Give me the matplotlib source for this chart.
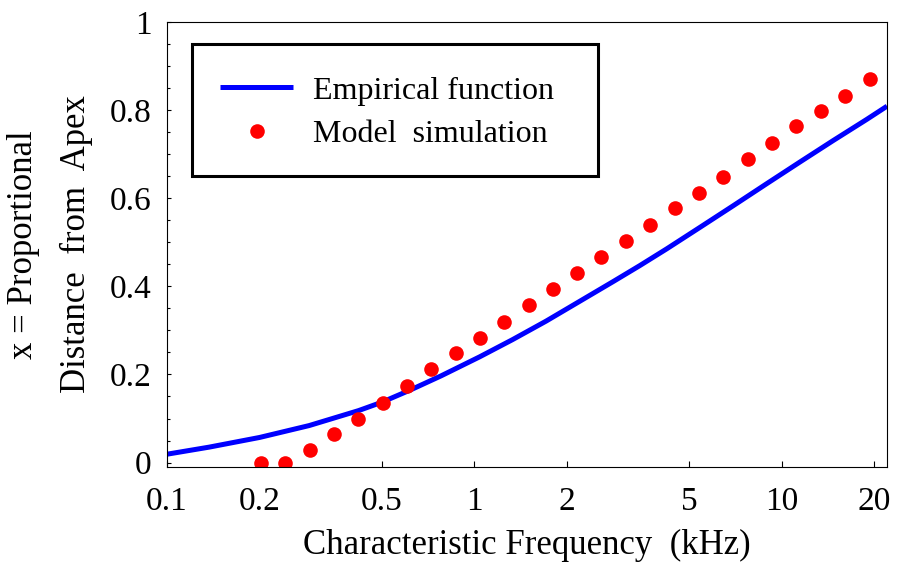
import matplotlib
matplotlib.use("Agg")
import matplotlib.pyplot as plt
from matplotlib.patches import Rectangle
from matplotlib.ticker import FixedLocator, MultipleLocator, NullLocator

# empirical function (kHz, proportional distance)
emp_freq = [0.1, 0.137, 0.2, 0.29, 0.42, 0.5, 0.62, 0.78, 1.04, 1.33, 1.71,
            2.2, 2.83, 3.45, 4.22, 5.42, 6.95, 8.93, 11.5, 14.7, 18.9, 22.0]
emp_pos = [0.019, 0.035, 0.057, 0.084, 0.118, 0.137, 0.165, 0.197, 0.240, 0.279, 0.321,
           0.366, 0.411, 0.447, 0.485, 0.534, 0.583, 0.633, 0.683, 0.731, 0.779, 0.809]

# model simulation points
sim_freq = [0.202, 0.242, 0.291, 0.349, 0.419, 0.503, 0.603, 0.724, 0.869, 1.04,
            1.25, 1.50, 1.80, 2.16, 2.59, 3.11, 3.73, 4.48, 5.37, 6.45,
            7.74, 9.28, 11.1, 13.4, 16.0, 19.3]
sim_pos = [0.0, 0.0, 0.029, 0.065, 0.099, 0.136, 0.174, 0.212, 0.249, 0.283,
           0.320, 0.358, 0.395, 0.431, 0.467, 0.504, 0.540, 0.578, 0.613, 0.649,
           0.688, 0.726, 0.763, 0.797, 0.833, 0.870]

x_ticks = [0.1, 0.2, 0.5, 1, 2, 5, 10, 20]
x_ticklabels = ["0.1", "0.2", "0.5", "1", "2", "5", "10", "20"]
y_ticks = [0, 0.2, 0.4, 0.6, 0.8, 1]
y_ticklabels = ["0", "0.2", "0.4", "0.6", "0.8", "1"]

plt.rcParams['font.family'] = ['Liberation Serif', 'DejaVu Serif']

fig = plt.figure(figsize=(8.97, 5.69), dpi=100)
ax = fig.add_axes([0.1862, 0.1793, 0.8027, 0.782])

ax.plot(emp_freq, emp_pos, color="#0000ff", lw=3.6, solid_capstyle="butt",
        label="Empirical function")
ax.plot(sim_freq, sim_pos, ls="none", marker="o", ms=10.5, color="#ff0000",
        mec="none", label="Model  simulation")

ax.set_xscale("log")
ax.set_xlim(0.1, 22)
ax.set_ylim(-0.01, 1.0)
ax.xaxis.set_major_locator(FixedLocator(x_ticks))
ax.xaxis.set_minor_locator(NullLocator())
ax.set_xticklabels(x_ticklabels)
ax.set_yticks(y_ticks)
ax.set_yticklabels(y_ticklabels)
ax.yaxis.set_minor_locator(MultipleLocator(0.05))

ax.tick_params(axis="both", which="both", direction="in", labelsize=24,
               top=False, right=False)
ax.tick_params(axis="x", which="major", length=4, width=0.8, pad=14)
ax.tick_params(axis="y", which="major", length=3, width=0.8, pad=11)
ax.tick_params(axis="y", which="minor", length=2.5, width=0.8)
for s in ax.spines.values():
    s.set_linewidth(0.8)

ax.set_xlabel("Characteristic Frequency  (kHz)", fontsize=25, labelpad=9)
ax.set_ylabel("x = Proportional\nDistance  from  Apex", fontsize=25,
              labelpad=12, linespacing=1.8)

# legend box drawn by hand so its size matches
ax.add_patch(Rectangle((0.0347, 0.654), 0.5639, 0.2966, transform=ax.transAxes,
                       fill=False, ec="black", lw=2.2, zorder=5))
leg = ax.legend(loc="center left", bbox_to_anchor=(0.0736, 0.796), fontsize=23,
                frameon=False, handlelength=2.3, handletextpad=0.6,
                borderpad=0, labelspacing=0.45, borderaxespad=0)

fig.savefig("out.png", dpi=100)
